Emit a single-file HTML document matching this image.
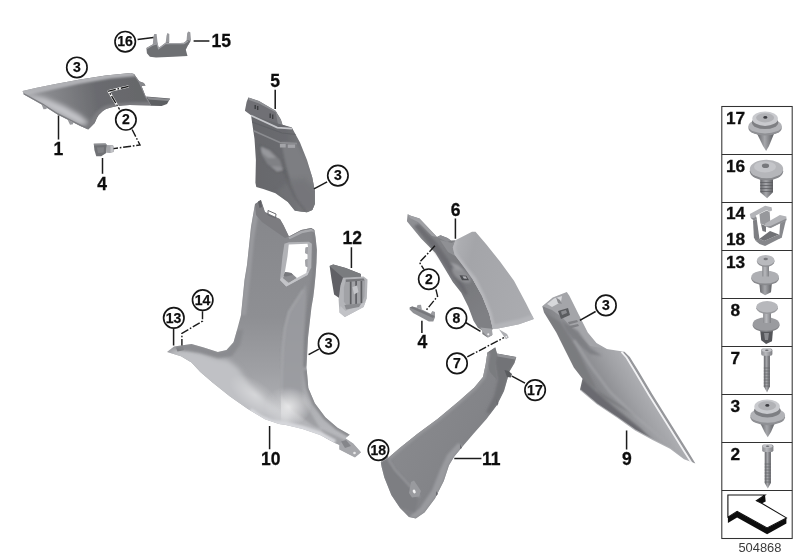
<!DOCTYPE html>
<html><head><meta charset="utf-8">
<style>
html,body{margin:0;padding:0;background:#fff;}
body{width:800px;height:560px;overflow:hidden;}
svg{display:block}
.lb{font-family:"Liberation Sans",sans-serif;font-weight:bold;font-size:17.5px;fill:#111;stroke:#111;stroke-width:0.3;}
.cn{font-family:"Liberation Sans",sans-serif;font-weight:bold;font-size:14px;fill:#111;text-anchor:middle;stroke:#111;stroke-width:0.25;}
.tb{font-family:"Liberation Sans",sans-serif;font-weight:bold;font-size:17.3px;fill:#111;text-anchor:middle;stroke:#111;stroke-width:0.3;}
.ld{stroke:#1a1a1a;stroke-width:1.5;fill:none;}
.dd{stroke:#1a1a1a;stroke-width:1.4;fill:none;stroke-dasharray:8 1.8 1.6 1.8;}
.cc{fill:#fff;stroke:#151515;stroke-width:1.65;}
</style></head><body>
<svg width="800" height="560" viewBox="0 0 800 560">
<defs>
<filter id="sf" x="-5%" y="-5%" width="110%" height="110%"><feGaussianBlur stdDeviation="0.55"/></filter>
<filter id="b1"><feGaussianBlur stdDeviation="1.2"/></filter>
<filter id="b2"><feGaussianBlur stdDeviation="2.5"/></filter>
<filter id="b4"><feGaussianBlur stdDeviation="5"/></filter>
<linearGradient id="g1" gradientUnits="userSpaceOnUse" x1="22" y1="95" x2="135" y2="80"><stop offset="0" stop-color="#9a9b9f"/><stop offset="0.35" stop-color="#808185"/><stop offset="0.65" stop-color="#6a6b6f"/><stop offset="1" stop-color="#66676b"/></linearGradient>
<linearGradient id="g1b" x1="0" y1="0" x2="1" y2="0.6"><stop offset="0" stop-color="#8c8d91"/><stop offset="0.5" stop-color="#a3a4a8"/><stop offset="1" stop-color="#85868a"/></linearGradient>
<linearGradient id="g5" x1="0" y1="0" x2="1" y2="0"><stop offset="0" stop-color="#66676b"/><stop offset="0.55" stop-color="#6a6b6f"/><stop offset="0.8" stop-color="#7a7b7f"/><stop offset="1" stop-color="#77787c"/></linearGradient>
<linearGradient id="g10" x1="0" y1="0" x2="0" y2="1"><stop offset="0" stop-color="#85868a"/><stop offset="0.45" stop-color="#8e8f93"/><stop offset="0.65" stop-color="#9fa0a4"/><stop offset="0.8" stop-color="#b0b1b5"/><stop offset="1" stop-color="#c0c1c5"/></linearGradient>
<linearGradient id="g6a" x1="0" y1="0" x2="0.6" y2="1"><stop offset="0" stop-color="#929397"/><stop offset="0.3" stop-color="#808185"/><stop offset="0.7" stop-color="#77787c"/><stop offset="1" stop-color="#7f8084"/></linearGradient>
<linearGradient id="g6b" x1="0" y1="0.3" x2="1" y2="0.6"><stop offset="0" stop-color="#b2b3b7"/><stop offset="0.25" stop-color="#a4a5a9"/><stop offset="1" stop-color="#abacb0"/></linearGradient>
<linearGradient id="g11" x1="0.2" y1="0.2" x2="1" y2="0.8"><stop offset="0" stop-color="#8b8c90"/><stop offset="0.5" stop-color="#838488"/><stop offset="1" stop-color="#77787c"/></linearGradient>
<linearGradient id="g9" gradientUnits="userSpaceOnUse" x1="588" y1="422" x2="660" y2="377"><stop offset="0" stop-color="#6f7074"/><stop offset="0.3" stop-color="#85868a"/><stop offset="0.6" stop-color="#a0a1a5"/><stop offset="0.85" stop-color="#b2b3b7"/><stop offset="1" stop-color="#b8b9bd"/></linearGradient>
<radialGradient id="hl10" cx="0.5" cy="0.5" r="0.5"><stop offset="0" stop-color="#fff" stop-opacity="0.7"/><stop offset="1" stop-color="#fff" stop-opacity="0"/></radialGradient>
<linearGradient id="mtl" x1="0" y1="0" x2="1" y2="0"><stop offset="0" stop-color="#8a8b8f"/><stop offset="0.4" stop-color="#b8b9bd"/><stop offset="1" stop-color="#7f8084"/></linearGradient>
<linearGradient id="mtd" x1="0" y1="0" x2="1" y2="0"><stop offset="0" stop-color="#66676b"/><stop offset="0.45" stop-color="#a5a6aa"/><stop offset="1" stop-color="#5e5f63"/></linearGradient>
<clipPath id="c1"><path d="M22.6,91.1 L36.8,87.8 L55.5,84 L80,79.5 L105.5,75.5 L118,74.2 L130.8,73.1 L134,74.1 L139.4,81.5 L143.8,83 L145.5,85.6 L141.5,86 L145.7,96.4 L151.3,105.4 L129.7,104.9 Q115,105.5 106,109 Q98,113 94.7,123 L88.3,129.4 L80.9,126.2 L57.5,114.5 L42.6,104.9 L23.5,94.3Z"/></clipPath>
<clipPath id="c5"><path d="M251,115.1 L292.1,128 L300,142.5 L307,160 L312.3,177.5 L314.9,191.5 L314.9,203.8 L312.3,209.9 L307,212.2 L294.8,210.8 L287.8,202 L275.5,193.3 L263.3,188.9 L256.3,187.1 L255.4,182.8 L255.9,160 L254.5,139Z"/></clipPath>
<clipPath id="c10"><path d="M255,204 L261,200 L265,212 L280,219 L283.5,225 L289,236.5 L301.25,230 L311.25,228 L314.4,230 L315.6,237.5 L316.9,250 L316.5,262.5 L315.6,275 L314.4,287.5 L313.3,297 L311.5,307 L310,320 L308,338 L306.5,367 L308.3,388 L314.8,403.3 L325.3,417.3 L337.5,427.8 L349.8,434.8 L345.4,438.3 L353.3,443.5 L361.1,452.3 L355,457.5 L348,454 L339.3,449.6 L339.5,445 L334.9,443 L320,434.9 L302.5,428.9 L285,424.8 L279,424 L265,419.3 L247.5,408.8 L230,396.5 L212.5,382.5 L200.3,372 L191.5,362.4 L181,356.3 L167,351.9 L174,346.6 L191.5,344 L203.8,347.5 L217.8,351.9 L226.5,350.1 L233.5,342.3 L237,330 L241,315 L244.5,280 L247,265 L251,227Z"/></clipPath>
<clipPath id="chl"><path d="M280.5,375 L330,375 L330,440 L281.5,440Z"/></clipPath>
<clipPath id="c6b"><path d="M455.4,240.2 L472,231.8 L475.5,231.8 L486,244 L500,261.5 L514,280.8 L526,303.3 L533.9,319 L519,324.3 L498,328.6 L492.8,328.8 L489.3,313.8 L482.3,296.3 L473.5,280.5 L465,268.5 L454.5,254.5 L452.8,247.5Z"/></clipPath>
<clipPath id="c11"><path d="M487.4,352.5 L495.3,347.3 L497,353.4 L516.3,356.9 L514.5,363 L509.3,371.8 L507.5,378.8 L504,391 L497,405 L486.5,419 L473.5,433.8 L463,446 L454.3,456.5 L449,465.3 L443.8,481 L435,498.5 L424.5,512.5 L415.8,518.6 L408.8,516.9 L400,508.1 L391.3,495 L384.3,477.5 L381.6,467 L380.8,462.6 L387.8,458.3 L400,447.8 L417.5,433.8 L437.5,419 L458.5,401.5 L474.3,387.5 L483,377 L485.6,364.8Z"/></clipPath>
<clipPath id="c9"><path d="M542.3,306.3 L552.8,297.5 L566.8,291.9 L569.4,295.8 L579,315 L587.8,332.5 L596.5,343 L607,349.1 L624.5,351.8 L629.8,357 L638.5,371 L652.5,394.5 L670,422.5 L687.5,450.5 L695.4,463.6 L684,459.3 L670,448.8 L652.5,440 L635,430.4 L617.5,418.1 L596.5,404.1 L579.9,390.1 L582.5,378.8 L573.8,367.5 L565,350 L556.3,332.5 L544,312.4Z"/></clipPath>
</defs>
<g filter="url(#sf)">
<!-- part 15/16 bracket -->
<g>
<path d="M152.8,44.5 L153.4,36.6 L154.3,34 L156.6,34 L157.6,43 Z M165.6,43.5 L166.5,35.8 L167.4,33.1 L169.3,34 L169.3,42 L168.3,44.5Z M186.5,41 L187.2,33.1 L188.4,31.4 L190.3,32.3 L191,40.1 L188.4,45 L185,46Z" fill="#98999d"/>
<path d="M146.4,48 L152.5,44.5 L157.4,42.8 L158.6,48 L165.6,42.8 L169,42.5 L168.3,43.8 L184,42.8 L187.2,40.1 L190.5,41 L188.4,44.5 L185.8,49.8 L187.5,55.9 L173.5,56.8 L156,57.6 L149.9,56.8 L146.9,53.3Z" fill="#6e6f73"/>
<path d="M147,48.5 L152.5,45.2 L157,43.6 L158.6,48.8 L165.6,43.6 L184,43.6 L188,41" fill="none" stroke="#a1a2a6" stroke-width="1.2"/>
</g>

<!-- part 1 -->
<g>
<path d="M146,96.5 L170.1,98.6 L167,103.9 L161.6,106 L151,105.8Z" fill="#5d5e62"/>
<path d="M147,97 L170,99 L168.5,101 L148.5,99.5Z" fill="#8a8b8f"/>
<g clip-path="url(#c1)">
<rect x="15" y="65" width="150" height="70" fill="url(#g1)"/>
<!-- top light band -->
<path d="M18,88 L46.9,82.5 L78.7,76 L110.6,71 L136,69.5 L137,76 L110.6,78.5 L78.7,84 L46.9,91 L24,96Z" fill="#b0b1b5" filter="url(#b1)"/>
<!-- sheen on lower-left -->
<path d="M26,94 L45,98 L64,106 L80,115 L90,124 L80,125 L55,112 L30,98Z" fill="#c4c5c9" filter="url(#b2)"/>
<!-- lower-left edge thickness -->
<path d="M23.5,94.3 L42.6,104.9 L57.5,114.5 L80.9,126.2 L88.3,129.4" fill="none" stroke="#7d7e82" stroke-width="2.6"/>
<!-- bottom right inner curve lighter -->
<path d="M151,106 L129.7,106 Q115,107 106,111 Q99,115 96,125 L90,130 L88,126 Q94,110 106,105.5 Q118,102 150,102Z" fill="#7b7c80" filter="url(#b1)"/>
<!-- right edge lighter rim -->
<path d="M134,74.1 L139.4,82 L142,88 L145.7,96.4 L151.3,105.4" fill="none" stroke="#88898d" stroke-width="1.6"/>
</g>
<path d="M139.4,81.3 L143.8,83 L145.5,85.6 L141.3,85.8Z" fill="#88898d"/>
<path d="M41.5,104.3 L43.5,109.3 L46.5,109 L46.8,107Z M67.5,119.5 L70,124.8 L73,124.3 L73.2,122.3Z" fill="#98999d"/>
<path d="M128.6,86.4 L108.6,91.1 L117.8,106.5" stroke="#f4f4f4" stroke-width="2.4" fill="none" stroke-linejoin="round"/>
</g>

<!-- clip 4 a -->
<g>
<path d="M106.9,145 L113.1,145.25 L114,147.5 L113.75,151.9 L110,153.1 L106.5,152.75Z" fill="#a4a5a9"/>
<path d="M110.5,146 L113.3,146.3 L113.5,151.5 L110.5,152.5Z" fill="#c2c3c7"/>
<path d="M93.75,143.75 L105.6,143.5 L106.9,145 L106.25,153.1 L101.25,156.25 L96.25,156.25 L94.4,150Z" fill="#707175"/>
<path d="M93.75,143.75 L105.6,143.5 L106.7,144.9 L94.2,145.6Z" fill="#8d8e92"/>
<path d="M97,147.5 L104,147.3 L103.6,152.5 L98,153Z" fill="#808185"/>
</g>

<!-- part 5 -->
<g>
<path d="M248.4,97.6 L258.9,101.1 L275.5,110.8 L280.8,119.5 L282.5,124.8 L292.1,127.4 L291.3,129.3 L277.3,127.6 L251,115.3 L244.9,110.8 L246.6,102Z" fill="#6f7074"/>
<path d="M248.4,97.6 L258.9,101.1 L275.5,110.8 L277,113 L259,103.5 L249,100Z" fill="#909195"/>
<path d="M275.5,110.8 L280.8,119.5 L282.5,124.8 L278,124.5 L276,114Z" fill="#88898d"/>
<rect x="254.5" y="105" width="1.4" height="4" fill="#3c3d41"/><rect x="257" y="106" width="1.4" height="4" fill="#3c3d41"/>
<rect x="269.5" y="113.5" width="1.4" height="4.5" fill="#3c3d41"/><rect x="272" y="114.5" width="1.4" height="4.5" fill="#3c3d41"/>
<g clip-path="url(#c5)">
<rect x="245" y="110" width="75" height="108" fill="url(#g5)"/>
<!-- right face lighter -->
<path d="M281,142 L296,143 L320,190 L320,215 L300,215 L292,185 L286,165Z" fill="#7d7e82" filter="url(#b1)"/>
<!-- bottom right curved region -->
<path d="M275,193 L290,180 L305,178 L316,190 L316,214 L296,214 L288,203Z" fill="#727377" filter="url(#b2)" opacity="0.7"/>
<!-- band line -->
<path d="M253,130.5 L279.9,142.5 L297,143.6" fill="none" stroke="#8b8c90" stroke-width="1.6"/>
<path d="M252,122 L282,133 L296,134.5" fill="none" stroke="#5d5e62" stroke-width="1.2" opacity="0.7"/>
<!-- recess -->
<path d="M259.8,145.1 L270.3,149.5 L280.8,160 L284.3,170.5 L277.3,172.3 L266.8,164.4 L261.5,155.6Z" fill="#808185" stroke="#595a5e" stroke-width="1" filter="url(#b1)"/>
<path d="M284,170 L289,184 L296,199 L306,212" fill="none" stroke="#5c5d61" stroke-width="1.2" filter="url(#b1)" opacity="0.8"/>
<path d="M261,147 L269,151 L276,158 L268,158 L262,153Z" fill="#97989c" filter="url(#b1)"/>
<path d="M271,166 L280,166.5 L283,170 L277,171.5Z" fill="#94959a" filter="url(#b1)" opacity="0.8"/>
<!-- small rects -->
<rect x="279.9" y="143.9" width="5.8" height="3.6" fill="#a3a4a8"/>
<rect x="287.8" y="144.5" width="7.3" height="3.4" fill="#a3a4a8"/>
</g>
<!-- highlight line under cap -->
<path d="M251,115.4 L277.3,127.6 L292,128.6" fill="none" stroke="#c6c7cb" stroke-width="1.7"/>
</g>
<!-- part 10 -->
<g>
<g clip-path="url(#c10)">
<rect x="160" y="195" width="210" height="270" fill="url(#g10)"/>
<!-- upper-left lighter edge -->
<path d="M255,204 L251,227 L247,265 L244.5,280 L241,315 L246,315 L250,280 L254,240 L259,210Z" fill="#999a9e" filter="url(#b1)"/>
<!-- top tabs darker -->
<path d="M255,204 L261,200 L265,212 L280,219 L283.5,225 L289,236.5 L285,238 L262,222 L256,215Z" fill="#7b7c80"/>
<path d="M289,238.2 L301.5,232 L311.5,230 L315,231.5" fill="none" stroke="#a9aaae" stroke-width="2.6"/>
<path d="M289,236.5 L301.25,230 L311.25,228 L314.4,230" fill="none" stroke="#808185" stroke-width="1.4"/>
<!-- right of window strip -->
<path d="M314.4,230 L315.6,237.5 L316.9,250 L316.5,262.5 L315.6,275 L314.4,287.5 L311.5,307 L308,338 L306.5,367 L303,367 L304,338 L308,300 L312,275 L313,250 L312,232Z" fill="#808185" filter="url(#b1)" opacity="0.85"/>
<!-- ridge lighter right-lower region -->
<path d="M306,284 L300,295 L293,305 L288,313 L284,330 L282,346 L281,370 L281,395 L292,410 L312,425 L345,440 L360,455 L330,445 L303,400 L302,370 L303,340 L306,300Z" fill="#9b9ca0" filter="url(#b1)" opacity="0.85"/>
<path d="M303,290 L296,301 L289,312 L285,328 L283,346 L282,370 L282,392" fill="none" stroke="#a6a7ab" stroke-width="2" filter="url(#b1)" opacity="0.9"/>
<!-- wing lower band light -->
<path d="M167,351.9 L176,350 L190,349.5 L203,353 L216,358 L228,360 L238,368 L250,385 L268,402 L290,415 L290,430 L240,412 L200,378 L180,360Z" fill="#c0c1c5" filter="url(#b2)"/>
<path d="M176,347.5 L183,346.5 L184,350 L177.5,351.5Z" fill="#7d7e82"/>
<!-- wing upper darker -->
<path d="M174,346.6 L191.5,344 L203.8,347.5 L217.8,351.9 L226.5,350.1 L233.5,342.3 L237,330 L243,330 L240,345 L232,356 L218,358 L200,353 L180,350Z" fill="#88898d" filter="url(#b1)" opacity="0.85"/>
<!-- highlight -->
<ellipse cx="288" cy="406" rx="24" ry="20" fill="url(#hl10)" opacity="0.6"/>
<path d="M281,380 L320,380 L320,435 L281.5,430Z" fill="none"/>
<g clip-path="url(#chl)"><ellipse cx="289" cy="407" rx="22" ry="19" fill="url(#hl10)" opacity="0.7"/></g>
<ellipse cx="255" cy="395" rx="30" ry="14" fill="url(#hl10)" opacity="0.5" transform="rotate(35 255 395)"/>
<!-- bottom rim lighter -->
<path d="M250,410.5 L260.5,418 L271,422.4 L285,424.1 L302.5,428.3 L320,434.3 L334.9,442.3" fill="none" stroke="#d6d7db" stroke-width="5.5" filter="url(#b1)"/>
<!-- right lower edge darker band -->
<path d="M306,370 L308.6,387.5 L314.8,403.3 L325.3,417.3 L337.5,427.8 L349.8,434.8" fill="none" stroke="#8a8b8f" stroke-width="5" filter="url(#b1)"/>
<!-- bracket tab -->
<path d="M349.8,434.8 L345.4,438.3 L353.3,443.5 L361.1,452.3 L355,457.5 L348,454 L339.3,449.6 L339.5,444Z" fill="#a6a7ab"/>
<path d="M341,441.5 L346,440 L351,446 L345,448Z" fill="#85868a"/>
<circle cx="354.5" cy="453" r="1.3" fill="#e8e8ea"/>
</g>
<!-- window -->
<path d="M284.4,243.75 L288.75,242.3 L308.75,241.7 L311.9,243.75 L311.25,267.5 L307.5,275 L286.25,286.4 L280,280 L282.5,256.25Z" fill="#b1b2b6"/>
<path d="M280,280 L286.25,286.4 L307.5,275 L309,271 L287,282.5 L282,277Z" fill="#c3c4c8"/>
<path d="M288.75,244.4 L307.5,243.75 L308.1,246.9 L305.6,247.5 L305,253.1 L307.5,254.4 L307.5,258.75 L305,260 L305.6,266.25 L307.5,267.5 L306.25,273.1 L296.9,278.1 L288.75,283.1 L282.8,278.3 L285,271.25 L287.5,256.25Z" fill="#fff"/>
<path d="M285,271.9 L291.25,273.1 L296.9,278.1 L288.75,283.1 L282.8,278.3Z" fill="#8b8c90"/>
<path d="M285,271.9 L291.25,273.1 L293,275 L286,276.5 L283.5,276Z" fill="#77787c"/>
<path d="M305.6,247.5 L308,247 L307.8,254 L305,253.1Z M305,260 L307.6,259 L307.6,267 L305.6,266.25Z" fill="#a2a3a7"/>
<!-- top clips -->
<path d="M258,201.5 L260.8,200 L262,207 L259.5,208Z" fill="#5e5f63"/>
<path d="M268,210.5 L276,214 L275.5,218 L268,215Z" fill="none" stroke="#6a6b6f" stroke-width="1"/>
</g>

<!-- part 12 -->
<g>
<path d="M329.6,266.1 L333.2,264.6 L345.7,267.9 L360.9,274.1 L361,277 L343.9,278.6 L341.3,283.9 L339.5,298.2 L334.1,294.6 L331.4,278.6Z" fill="#606165"/>
<path d="M329.6,266.1 L333.2,264.6 L345.7,267.9 L360.9,274.1 L361,276.6 L344,278.5Z" fill="#7a7b7f"/>
<path d="M343,277.7 L363.6,276.4 L367.5,279.5 L366.8,298.2 L363.6,307.1 L344.8,317 L339.5,312.5 L338.6,300 L340.4,285.7Z" fill="#b3b4b8"/>
<path d="M339.5,312.5 L344.8,317 L363.6,307.1 L365.5,302 L345.5,311 L340.5,306Z" fill="#c2c3c7"/>
<path d="M345.7,279.5 L363.6,278.6 L365,281.3 L364.5,296.4 L361.8,303.6 L346.6,305.4 L343.9,301.8 L343.9,287.5Z" fill="#a1a2a6"/>
<path d="M345.7,279.5 L363.6,278.6 L364.6,280.6 L346,282Z" fill="#77787c"/>
<path d="M350.7,281.5 V304.5 M356.1,281 V304 M361.4,281 V303" stroke="#5f6064" stroke-width="1.7" fill="none"/>
<path d="M352.5,287 L357,285.5 L358.5,292 L354,294.5Z" fill="#c4c5c9"/>
<path d="M344.5,305 L361.5,303.2 L359,307 L346,309.5Z" fill="#8a8b8f"/>
</g>

<!-- part 6 -->
<g>
<path d="M407.6,214.3 L410.8,215.7 L419.5,218.6 L437,237 L440.5,235.3 L447.5,237.9 L451,240.5 L455.4,240.2 L453.5,248 L456,256 L468.3,270 L473.5,280.5 L482.3,296.3 L489.3,313.8 L493,329 L491,330.4 L491.9,335.6 L487.5,337.4 L482.3,333.9 L482.3,330.4 L477.9,327.8 L473.5,320.8 L468.3,306.8 L461.3,292.8 L452.8,282 L445.8,270.3 L435.3,252.8 L421.3,238.8 L406.9,221.3Z" fill="url(#g6a)"/>
<path d="M407.6,214.3 L410.8,215.7 L419.5,218.6 L437,237 L432,236 L418,222 L410,218Z" fill="#a0a1a5"/>
<path d="M437,237 L440.5,235.3 L447.5,237.9 L451,240.5 L447,242Z" fill="#8e8f93"/>
<path d="M419,224 L437,243 L447,258 L460,277 L468,294 L465,295 L452,276 L440,258 L428,243 L414,226Z" fill="#6a6b6f" filter="url(#b1)" opacity="0.9"/>
<path d="M440,240 L452,243 L455.4,240.2 L453,248 L455,256 L448,252Z" fill="#8f9094"/>
<!-- inner lighter area of dark part near recess -->
<ellipse cx="461.5" cy="275" rx="11.5" ry="5.2" transform="rotate(38 461.5 275)" fill="#8e8f93" filter="url(#b1)"/>
<path d="M450,262 L458,265 L464,271 L456,270Z" fill="#9c9da1" filter="url(#b1)"/>
<path d="M459.5,275.3 L466.3,275.8 L469,280.2 L462,280.3Z" fill="#4c4d51"/>
<path d="M462.5,276.3 L465.8,276.6 L467,278.8 L463.8,278.6Z" fill="#b4b5b9"/>
<g clip-path="url(#c6b)">
<rect x="445" y="225" width="95" height="110" fill="url(#g6b)"/>
<path d="M455.4,240.2 L452.8,247.5 L454.5,254.5 L465,268.5 L473.8,279 L482.3,296.3 L489.3,313.8 L492.8,328.6" fill="none" stroke="#b7b8bc" stroke-width="5" filter="url(#b1)"/>
<path d="M519,319 L534,314 L534,322 L500,331 L492,331 L492,325Z" fill="#b4b5b9" filter="url(#b1)"/>
</g>
<path d="M480.2,327.5 L491.8,328.8 L492.7,334.8 L488.2,337.5 L482.9,332.1Z" fill="#a3a4a8"/>
<path d="M498.9,329.2 L507,333.9 L508.75,337.5 L506,339.3 L503.4,335.7Z" fill="#adaeb2"/>
<circle cx="488.3" cy="334.3" r="1.1" fill="#ededee"/>
<circle cx="506.3" cy="336.8" r="0.9" fill="#ededee"/>
</g>

<!-- clip 4 b -->
<g>
<path d="M416.6,307.6 L417.5,305 L421,304.7 L421.9,309.4Z M430.6,313.8 L432.4,311.1 L435,312 L435,317.3Z" fill="#9c9da1"/>
<path d="M409.6,307.6 L412.3,306.4 L416.6,307.6 L421.9,309.4 L430.6,313.8 L435,316 L435,317.3 L433.3,321.6 L428.9,321.6 L413.1,312.9 L409.6,309.4Z" fill="#8f9094"/>
<path d="M409.6,307.6 L412.3,306.4 L434.5,316 L433,318Z" fill="#77787c"/>
</g>
<!-- part 11 -->
<g>
<g clip-path="url(#c11)">
<rect x="375" y="340" width="150" height="185" fill="url(#g11)"/>
<!-- top right darker face -->
<path d="M497,353.4 L516.3,356.9 L514.5,363 L509.3,371.8 L507.5,378.8 L504,391 L497,405 L490,414 L486,412 L494,396 L498,380 L495,362Z" fill="#727377" filter="url(#b1)"/>
<path d="M487.4,352.5 L495.3,347.3 L497,353.4 L495,365 L497,380 L490,372 L487,362Z" fill="#7a7b7f"/>
<path d="M497,353.4 L516.3,356.9 L515,359.5 L497.5,356.5Z" fill="#909195"/>
<!-- left face lighter ridge -->
<path d="M487.4,352.5 L485.6,364.8 L483,377 L474.3,387.5 L458.5,401.5 L437.5,419 L417.5,433.8 L400,447.8 L387.8,458.3" fill="none" stroke="#95969a" stroke-width="5" filter="url(#b1)"/>
<!-- right lower lighter strip -->
<path d="M463,446 L454.3,456.5 L449,465.3 L443.8,481 L435,498.5 L424.5,512.5 L415.8,518.6 L408.8,516.9 L420,508 L432,490 L440,470 L447,455 L458,443Z" fill="#999a9e" filter="url(#b1)"/>
<!-- lower left darker facet -->
<path d="M380.8,462.6 L387.8,458.3 L395,470 L408,485 L418,500 L415,512 L400,508.1 L391.3,495 L384.3,477.5Z" fill="#7d7e82" filter="url(#b1)"/>
<path d="M388,459 L395,470 L408,484 L420,497" fill="none" stroke="#a0a1a5" stroke-width="1.5" filter="url(#b1)" opacity="0.8"/>
<!-- mount tab -->
<path d="M411,482 L414,480.5 L421,491 L419,496.5 L412,497.5 L409,493Z" fill="#999a9e"/>
<ellipse cx="414.2" cy="491.5" rx="1.4" ry="2" fill="#f2f2f3" transform="rotate(-25 414.2 491.5)"/>
</g>
<path d="M504.5,370 L508.5,371 L512,374 L511,377.5 L507,377Z" fill="#5a5b5f"/>
<path d="M380.8,462.6 L383,457.5 L388.5,455.5 L387.8,458.3Z" fill="#88898d"/>
<path d="M496,399 L498.5,403 L497,406Z M460,444 L462,448 L460,449Z M436,491 L438,494 L436,496Z" fill="#6a6b6f"/>
</g>

<!-- part 9 -->
<g>
<g clip-path="url(#c9)">
<rect x="535" y="285" width="170" height="185" fill="url(#g9)"/>
<!-- upper channel light -->
<path d="M542.3,306.3 L552.8,297.5 L566.8,291.9 L569.4,295.8 L579,315 L587.8,332.5 L596.5,343 L607,349.1 L590,346 L575,332 L563,318 L552,310Z" fill="#a4a5a9"/>
<path d="M566.8,291.9 L569.4,295.8 L579,315 L587.8,332.5 L596.5,343 L607,349.1 L624.5,351.8 L612,347 L598,338 L590,326 L580,308Z" fill="#b4b5b9"/>
<!-- top inner cup -->
<path d="M547,304 L554,298.5 L562,296 L561,302 L552,307Z" fill="#d7d8db"/>
<path d="M556,297.5 L560,300 L562,304 L558,303Z" fill="#8b8c90"/>
<!-- dark clip -->
<path d="M558,311 L568,308 L570,315 L561,319Z" fill="#5a5b5f"/>
<path d="M561,311.5 L566,310 L567,313 L562,315Z" fill="#8a8b8f"/>
<path d="M568,322 L577,320 L578,322 L569,324.5Z M569,326 L578,324 L579,326 L570,328.5Z" fill="#808185"/>
<path d="M562,321 L578,331 L590,348 L602,356 L590,354 L576,342 L566,330Z" fill="#7d7e82" filter="url(#b1)" opacity="0.9"/>
<!-- left dark face -->
<path d="M544,312.4 L556.3,332.5 L565,350 L573.8,367.5 L582.5,378.8 L590,385 L600,392 L620,405 L640,418 L600,396 L588,372 L575,345 L560,322Z" fill="#7a7b7f" filter="url(#b1)"/>
<!-- fold line: darker triangle lower-left -->
<path d="M582.5,378.8 L579.9,390.1 L596.5,404.1 L617.5,418.1 L635,430.4 L652.5,440 L640,428 L615,408 L596,392Z" fill="#6a6b6f" filter="url(#b1)"/>
<!-- light crease -->
<path d="M574,340 L590,365 L610,392 L640,420 L670,445" fill="none" stroke="#a6a7ab" stroke-width="2.5" filter="url(#b1)" opacity="0.7"/>
<!-- bottom rim light -->
<path d="M579.9,390.1 L596.5,404.1 L617.5,418.1 L635,430.4 L652.5,440 L670,448.8 L684,459.3 L695.4,463.6" fill="none" stroke="#aeafb3" stroke-width="2.2"/>
<!-- right edge: gray strip + white line -->
<path d="M624.5,351.8 L629.8,357 L638.5,371 L652.5,394.5 L670,422.5 L687.5,450.5 L695.4,463.6" fill="none" stroke="#96979b" stroke-width="5"/>
<path d="M621.5,351.8 L626.5,357.5 L635,371.5 L649,395 L666.5,423 L684,451 L692,463.6" fill="none" stroke="#f2f2f4" stroke-width="1.8"/>
</g>
</g>
</g><!-- end soft filter group -->
<g filter="url(#sf)">
<!-- leaders -->
<path class="ld" d="M58.5,115.6V139.5 M102.5,158V173.8 M275.2,89.8V109 M193.6,41H209.4 M137.6,39.6L153.4,37.5 M327.1,181.9L314,188.9 M351.4,247.3V267.9 M455.4,218.6V238.8 M269.6,426V449.3 M454.3,458.6H481.4 M626.6,430.4V449.6 M318.8,349.2L308.6,354.7 M173.6,329V345.6 M465.6,322.5L480.5,331.3 M525,383.1L511.9,376.1 M595.6,311.5L579.9,320.3 M421.9,320.8V333"/>
<path class="dd" d="M128.6,86.4L108.6,91.1L119.6,109.5 M132.1,129.5L140,145L113.6,148.6 M202.5,311.2V321.1L181.9,333.4V345.6 M434.9,245.8L419.5,262.4L423.9,269.4 M435.9,289.3L437.6,296.3L425.4,311.1 M467.3,356.9L504,337.6"/>
<!-- labels -->
<text class="lb" x="53.6" y="155">1</text>
<text class="lb" x="97.3" y="189.6">4</text>
<text class="lb" x="270.3" y="86.6">5</text>
<text class="lb" x="211.5" y="47.1">15</text>
<text class="lb" x="342.5" y="244.3">12</text>
<text class="lb" x="450.8" y="215.7">6</text>
<text class="lb" x="261" y="465.4">10</text>
<text class="lb" x="482" y="464.6">11</text>
<text class="lb" x="622" y="465.4">9</text>
<text class="lb" x="417.6" y="348">4</text>
<!-- circles -->
<circle class="cc" cx="76.9" cy="67.4" r="10.2"/><text class="cn" x="76.9" y="72">3</text>
<circle class="cc" cx="125.2" cy="41.7" r="10.2"/><text class="cn" x="125" y="46.3">16</text>
<circle class="cc" cx="125.9" cy="119.8" r="10.2"/><text class="cn" x="125.9" y="124.4">2</text>
<circle class="cc" cx="337.9" cy="175.6" r="10.2"/><text class="cn" x="337.9" y="180.2">3</text>
<circle class="cc" cx="202.7" cy="300.1" r="10.2"/><text class="cn" x="202.5" y="304.7">14</text>
<circle class="cc" cx="173.8" cy="317.9" r="10.2"/><text class="cn" x="173.6" y="322.5">13</text>
<circle class="cc" cx="328.6" cy="343.6" r="10.2"/><text class="cn" x="328.6" y="348.2">3</text>
<circle class="cc" cx="378.4" cy="450.1" r="10.2"/><text class="cn" x="378.2" y="454.7">18</text>
<circle class="cc" cx="428.8" cy="279.2" r="10.2"/><text class="cn" x="428.8" y="283.8">2</text>
<circle class="cc" cx="456.4" cy="318.1" r="10.2"/><text class="cn" x="456.4" y="322.7">8</text>
<circle class="cc" cx="457" cy="363.4" r="10.2"/><text class="cn" x="457" y="368">7</text>
<circle class="cc" cx="535.1" cy="390.1" r="10.2"/><text class="cn" x="534.9" y="394.7">17</text>
<circle class="cc" cx="605.9" cy="305.4" r="10.2"/><text class="cn" x="605.9" y="310">3</text>
</g>
<!-- table -->
<g filter="url(#sf)">
<rect x="721.8" y="106.5" width="70.4" height="432" fill="#fff" stroke="#333" stroke-width="1.05"/>
<path d="M721.8,154.5H792.2 M721.8,202.5H792.2 M721.8,250.5H792.2 M721.8,298.5H792.2 M721.8,346.5H792.2 M721.8,394.5H792.2 M721.8,442.5H792.2 M721.8,490.5H792.2" stroke="#333" stroke-width="1.05" fill="none"/>
<text class="tb" x="735.6" y="123.8">17</text>
<text class="tb" x="735.6" y="171.8">16</text>
<text class="tb" x="735.6" y="219.4">14</text>
<text class="tb" x="735.6" y="245.3">18</text>
<text class="tb" x="735.6" y="267.8">13</text>
<text class="tb" x="735.2" y="316.2">8</text>
<text class="tb" x="735.2" y="363.8">7</text>
<text class="tb" x="735.2" y="412">3</text>
<text class="tb" x="735.2" y="459.8">2</text>

<!-- icon 17 -->
<g id="i17">
<path d="M757.2,134 L773.9,134 L769,146 L766.1,151.1 L763,146Z" fill="url(#mtd)"/>
<ellipse cx="765.1" cy="128" rx="16.7" ry="7.6" fill="#8f9094"/>
<ellipse cx="765.1" cy="126.2" rx="16.7" ry="7.2" fill="#b2b3b7"/>
<ellipse cx="765.1" cy="122.5" rx="13.2" ry="6.6" fill="#7e7f83"/>
<ellipse cx="765.1" cy="118.7" rx="12.8" ry="7.3" fill="#c9cace"/>
<ellipse cx="765.1" cy="117.8" rx="9" ry="4.6" fill="#b1b2b6"/>
<ellipse cx="765.3" cy="117.4" rx="2" ry="1.4" fill="#3d3e42"/>
</g>
<!-- icon 3 (same) -->
<g id="i3">
<path d="M760.2,423 L774.9,423 L771,432 L767.7,437.2 L764.5,432Z" fill="url(#mtd)"/>
<ellipse cx="767.7" cy="417.2" rx="17.3" ry="8" fill="#8f9094"/>
<ellipse cx="767.7" cy="415.2" rx="17.3" ry="7.6" fill="#b2b3b7"/>
<ellipse cx="767.4" cy="410.8" rx="13.4" ry="6.8" fill="#7e7f83"/>
<ellipse cx="767.1" cy="406.7" rx="12.8" ry="7.3" fill="#c9cace"/>
<ellipse cx="767.1" cy="405.8" rx="9" ry="4.6" fill="#b1b2b6"/>
<ellipse cx="767.3" cy="405.4" rx="2" ry="1.4" fill="#3d3e42"/>
</g>
<!-- icon 16 -->
<g>
<path d="M760.2,177 L773,177 L773,192.3 L767.1,198.2 L760.2,192.3Z" fill="url(#mtd)"/>
<path d="M760.2,182.5H773 M760.2,185.5H773 M760.2,188.5H773 M760.5,191.5H772.5" stroke="#5a5b5f" stroke-width="0.9" opacity="0.8"/>
<ellipse cx="766.5" cy="171.3" rx="16.7" ry="9" fill="#87888c"/>
<ellipse cx="766.5" cy="169" rx="16.7" ry="9.3" fill="#b5b6ba"/>
<ellipse cx="765" cy="166.8" rx="11" ry="5.6" fill="#c4c5c9"/>
<ellipse cx="765.5" cy="165.8" rx="3.6" ry="2.3" fill="#77787c"/>
</g>
<!-- icon 14/18 clip -->
<g>
<path d="M755.8,241.1 L759.5,238.8 L764.1,241.1 L779,234.6 L781.8,237.4 L765.1,245.9 L759.5,244.1Z" fill="#85868a"/>
<path d="M759.5,238.8 L770,231 L779,234.6 L764.1,241.1Z" fill="#707175"/>
<path d="M753,220.6 L756.7,219.1 L759.5,239.2 L755.8,241.1 L753.9,237.4Z" fill="#7d7e82"/>
<path d="M780.3,221.6 L785.9,220.3 L781.8,237.4 L779,238.8Z" fill="#88898d"/>
<path d="M759.5,214.1 L766.9,210.4 L769.7,212.3 L770.3,222.5 L765.1,225.3 L760.4,223.4Z" fill="#97989c"/>
<path d="M761,224 L766,226 L766,232 L762.5,231Z" fill="#77787c"/>
<path d="M749.8,214.1 L765.1,205.8 L771.6,207.2 L772.1,210.4 L769.1,211.7 L766.9,209.9 L755.8,215.4 L756.7,219.1 L753.9,220.6 L750.6,217.8Z" fill="#b3b4b8"/>
<path d="M750.6,217.8 L753.9,220.6 L756.7,219.1 L756.2,216.8 L753.8,218Z" fill="#8a8b8f"/>
<path d="M765.1,223.4 L779.9,215.1 L786.4,216.5 L786.4,220.3 L770.6,228.1 L765.4,226.6Z" fill="#b3b4b8"/>
<path d="M765.4,226.6 L770.6,228.1 L786.4,220.3 L786.4,218.5 L770.6,226Z" fill="#8d8e92"/>
</g>
<!-- icon 13 -->
<g>
<path d="M759.2,282 L772,282 L771,292.3 L765.1,295.2 L760.2,292.3Z" fill="url(#mtd)"/>
<ellipse cx="765.1" cy="278.6" rx="13.8" ry="6.6" fill="#88898d"/>
<ellipse cx="765.1" cy="277" rx="13.8" ry="6.6" fill="#aeafb3"/>
<rect x="762.2" y="263" width="6.8" height="13.5" fill="url(#mtl)"/>
<ellipse cx="765.7" cy="261.6" rx="8.8" ry="5.2" fill="#8c8d91"/>
<ellipse cx="765.7" cy="260.2" rx="8.8" ry="5.2" fill="#b9babe"/>
<ellipse cx="765.7" cy="259" rx="2.2" ry="1.3" fill="#77787c"/>
</g>
<!-- icon 8 -->
<g>
<path d="M760.2,330 L773,330 L772,341.2 L766.1,344.1 L761.2,340.2Z" fill="#55565a"/>
<path d="M764,333 L769,333 L768,340 L765,340Z" fill="#8a8b8f"/>
<ellipse cx="766.1" cy="325.3" rx="13.4" ry="6.8" fill="#808185"/>
<ellipse cx="766.1" cy="324" rx="13.4" ry="6.8" fill="#9a9b9f"/>
<rect x="763.1" y="310" width="7.9" height="13" fill="url(#mtl)"/>
<ellipse cx="767.1" cy="308.2" rx="10.8" ry="5.7" fill="#98999d"/>
<ellipse cx="767.1" cy="306.8" rx="10.8" ry="5.7" fill="#b7b8bc"/>
</g>
<!-- icon 7 screw -->
<g>
<path d="M763.8,354 L769.9,354 L769.9,386.5 L767,392.4 L763.8,386.5Z" fill="url(#mtd)"/>
<path d="M763.8,368H769.9 M763.8,371H769.9 M763.8,374H769.9 M763.8,377H769.9 M763.8,380H769.9 M763.8,383H769.9 M763.8,386H769.9" stroke="#66676b" stroke-width="0.8"/>
<rect x="761.2" y="348.6" width="11.2" height="7.2" rx="1.8" fill="url(#mtl)"/>
<ellipse cx="766.8" cy="350.2" rx="5" ry="1.6" fill="#c3c4c8"/>
<ellipse cx="766.8" cy="350.2" rx="1.8" ry="0.8" fill="#6c6d71"/>
</g>
<!-- icon 2 screw -->
<g>
<path d="M764.7,450 L770.9,450 L770.9,483 L767.8,488.6 L764.7,483Z" fill="url(#mtd)"/>
<path d="M764.7,464H770.9 M764.7,467H770.9 M764.7,470H770.9 M764.7,473H770.9 M764.7,476H770.9 M764.7,479H770.9 M764.7,482H770.9" stroke="#66676b" stroke-width="0.8"/>
<rect x="762.2" y="444.5" width="11.2" height="7.5" rx="1.8" fill="url(#mtl)"/>
<ellipse cx="767.6" cy="446.2" rx="5" ry="1.6" fill="#c3c4c8"/>
<ellipse cx="767.6" cy="446.2" rx="1.8" ry="0.8" fill="#6c6d71"/>
</g>
<!-- arrow -->
<g>
<path d="M727.9,517.1 L737.1,511.4 L767.1,527.9 L786.4,517.9 L786.4,523.6 L767.1,534.3 L737.1,517.6 L727.9,522.9Z" fill="#111"/>
<path d="M765,495 L765.7,501.4 L761.6,503.4 L756.4,500.7Z" fill="#111"/>
<path d="M727.9,495 L765,495 L756.4,500.7 L762.1,503.6 L786.4,517.9 L767.1,527.9 L737.1,511.4 L727.9,517.1Z" fill="#fff" stroke="#111" stroke-width="1.1" stroke-linejoin="miter"/>
</g>
<text x="738.4" y="552.2" style="font-family:'Liberation Sans',sans-serif;font-size:12.6px;fill:#3c3c3c" textLength="43" lengthAdjust="spacingAndGlyphs">504868</text>
</g>
</svg>
</body></html>
